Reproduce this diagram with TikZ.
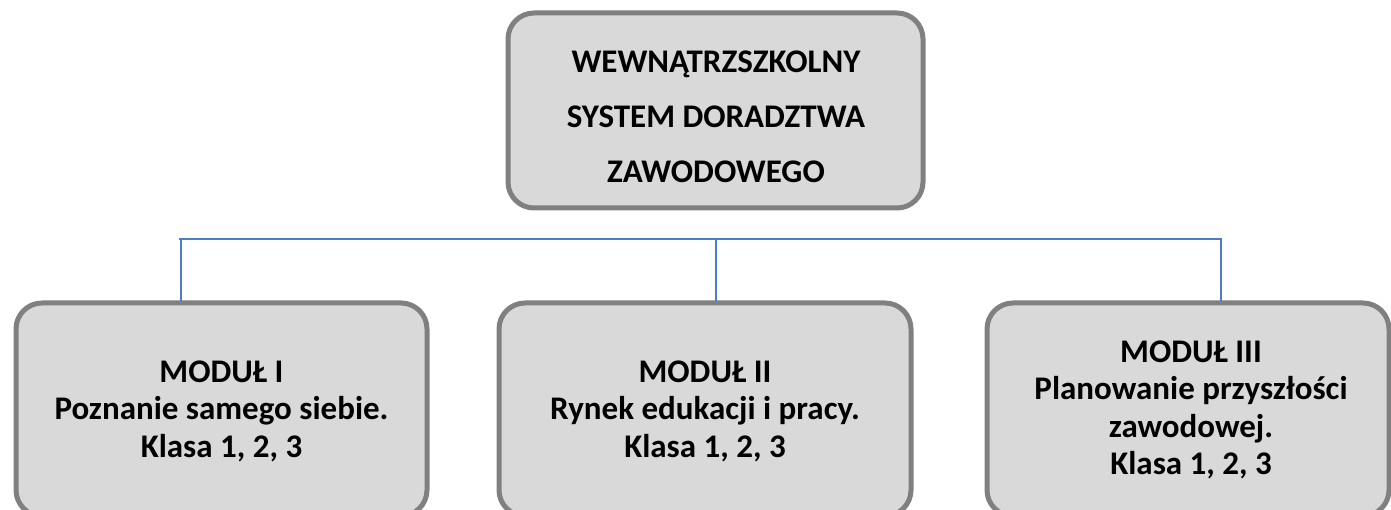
\documentclass[tikz,border=0pt]{standalone}
\usepackage{fontspec}
\setmainfont{Carlito}
\begin{document}
\begin{tikzpicture}[x=1pt,y=-1pt,
  box/.style={draw=boxborder,line width=5pt,fill=boxfill,rounded corners=26pt},
  lbl/.style={align=center,font=\bfseries\fontsize{33}{37.5}\selectfont,inner sep=0pt},
  conn/.style={draw=connblue,line width=2.2pt}]
\definecolor{boxborder}{HTML}{808080}
\definecolor{boxfill}{HTML}{D9D9D9}
\definecolor{connblue}{HTML}{4A7EC7}
\clip (0,0) rectangle (1391,510);
\fill[white] (0,0) rectangle (1391,510);
% top box
\path[box] (508,13) rectangle (923,208);
\node[lbl,font=\bfseries\fontsize{33}{55}\selectfont] (top) at (716,117) {WEWNĄTRZSZKOLNY\\SYSTEM DORADZTWA\\ZAWODOWEGO};
% bottom boxes
\path[box] (16,303) rectangle (427,516);
\path[box] (499,303) rectangle (911,516);
\path[box] (987,303) rectangle (1389,516);
\node[lbl] (m1) at (221.5,411) {MODUŁ I\\Poznanie samego siebie.\\Klasa 1, 2, 3};
\node[lbl] (m2) at (705,411) {MODUŁ II\\Rynek edukacji i pracy.\\Klasa 1, 2, 3};
\node[lbl] (m3) at (1191,410) {MODUŁ III\\Planowanie przyszłości\\zawodowej.\\Klasa 1, 2, 3};
% connector nodes
\coordinate (hl) at (179,239);
\coordinate (hr) at (1222,239);
\coordinate (c1) at (181,239);
\coordinate (c2) at (716,239);
\coordinate (c3) at (1221,239);
\coordinate (b1) at (181,301);
\coordinate (b2) at (716,301);
\coordinate (b3) at (1221,301);
\draw[conn] (hl) -- (hr);
\draw[conn] (c1) -- (b1);
\draw[conn] (c2) -- (b2);
\draw[conn] (c3) -- (b3);
\end{tikzpicture}
\end{document}
